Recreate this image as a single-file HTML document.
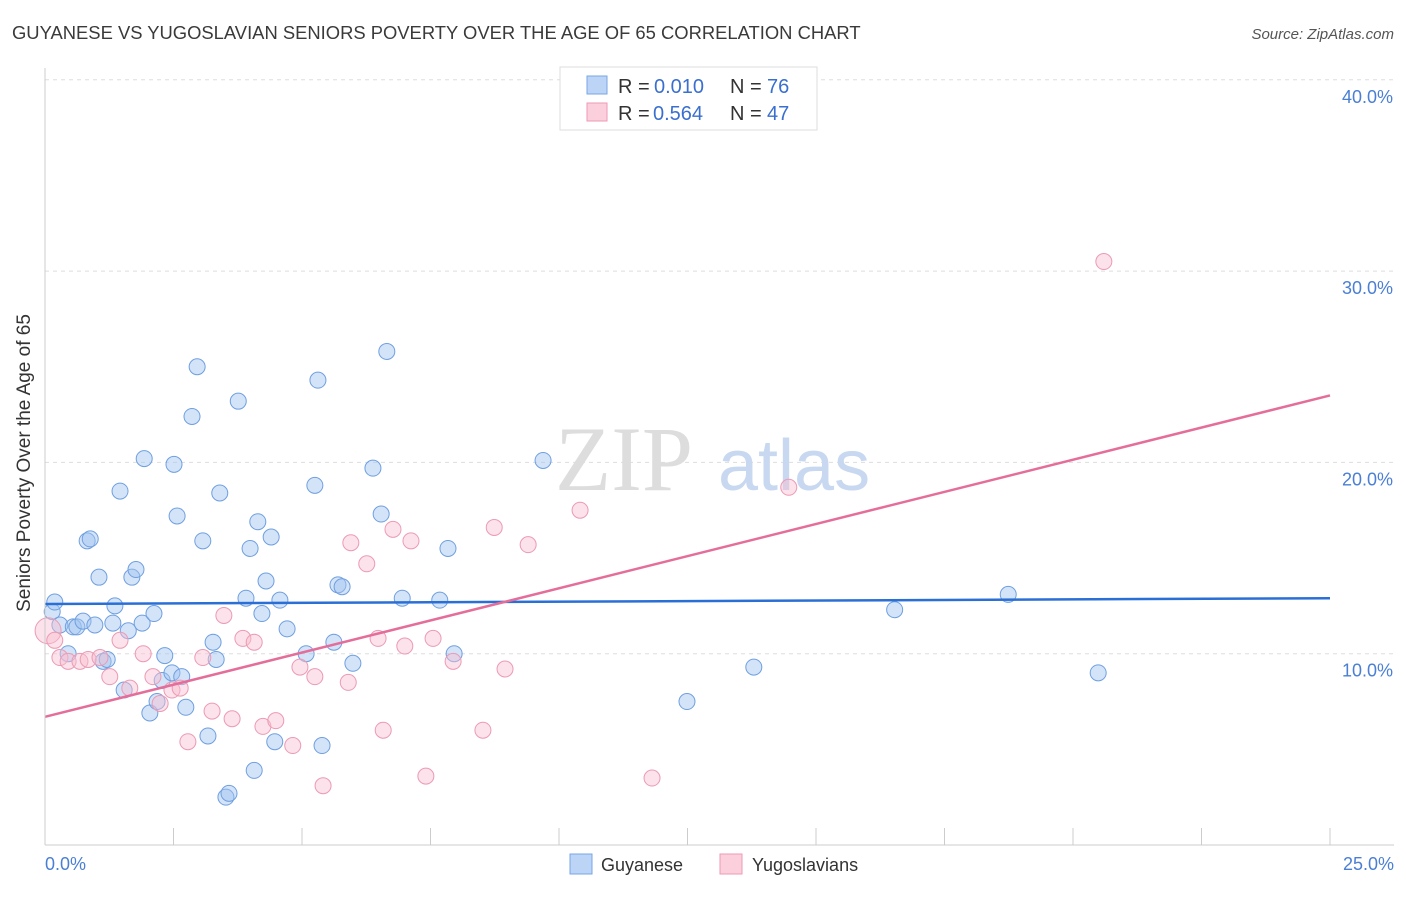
<!DOCTYPE html>
<html><head><meta charset="utf-8"><style>
body{margin:0;background:#fff;font-family:"Liberation Sans",sans-serif;}
</style></head><body>
<svg width="1406" height="892" xmlns="http://www.w3.org/2000/svg">
<text x="12" y="39" font-size="18.4" fill="#3a3a3a">GUYANESE VS YUGOSLAVIAN SENIORS POVERTY OVER THE AGE OF 65 CORRELATION CHART</text>
<text x="1394" y="39" font-size="15" fill="#555" font-style="italic" text-anchor="end">Source: ZipAtlas.com</text>
<g id="grid"></g>
<g>
<text x="555" y="490" font-size="92" fill="#ddd" font-family="Liberation Serif,serif">ZIP</text>
<text x="718" y="490" font-size="72" fill="#c8d8f0">atlas</text></g>
<g id="pts"></g>
<g id="lines"></g>
<line x1="45" y1="68" x2="45" y2="845" stroke="#ccc"/>
<line x1="45" y1="845" x2="1394" y2="845" stroke="#ccc"/>
<text x="22" y="455" font-size="19" fill="#333" transform="rotate(-90 30 455)" text-anchor="middle">Seniors Poverty Over the Age of 65</text>
<text x="45" y="870" font-size="18" fill="#4a7fd4">0.0%</text>
<text x="1394" y="870" font-size="18" fill="#4a7fd4" text-anchor="end">25.0%</text>
<g>
<rect x="560" y="67" width="257" height="63" fill="#fff" stroke="#ddd"/>
<rect x="587" y="76" width="20" height="18" fill="#bcd4f6" stroke="#7aa6e6"/>
<rect x="587" y="103" width="20" height="18" fill="#fbd0dc" stroke="#ee9ab5"/>
<text x="618" y="93" font-size="20" fill="#333">R =</text>
<text x="654" y="93" font-size="20" fill="#3a6fd0">0.010</text>
<text x="730" y="93" font-size="20" fill="#333">N =</text>
<text x="767" y="93" font-size="20" fill="#3a6fd0">76</text>
<text x="618" y="120" font-size="20" fill="#333">R =</text>
<text x="653" y="120" font-size="20" fill="#3a6fd0">0.564</text>
<text x="730" y="120" font-size="20" fill="#333">N =</text>
<text x="767" y="120" font-size="20" fill="#3a6fd0">47</text>
</g>
<g>
<rect x="570" y="854" width="22" height="20" fill="#bcd4f6" stroke="#7aa6e6"/>
<text x="601" y="871" font-size="18" fill="#333">Guyanese</text>
<rect x="720" y="854" width="22" height="20" fill="#fbd0dc" stroke="#ee9ab5"/>
<text x="752" y="871" font-size="18" fill="#333">Yugoslavians</text>
</g>
</svg>
<script>
const yTicks=[10,20,30,40];
const yTickLabels=["10.0%","20.0%","30.0%","40.0%"];
const xTicks=[0,2.5,5,7.5,10,12.5,15,17.5,20,22.5,25];
const guyX=[0.14,0.19,0.29,0.45,0.55,0.62,0.74,0.82,0.88,0.97,1.05,1.13,1.21,1.32,1.36,1.46,1.54,1.62,1.69,1.77,1.89,1.93,2.04,2.12,2.18,2.28,2.33,2.47,2.51,2.57,2.66,2.74,2.86,2.96,3.07,3.17,3.27,3.33,3.40,3.52,3.58,3.76,3.91,3.99,4.07,4.14,4.22,4.30,4.40,4.47,4.57,4.71,5.08,5.25,5.31,5.39,5.62,5.70,5.78,5.99,6.38,6.54,6.65,6.95,7.68,7.84,7.96,9.69,12.49,13.79,16.53,18.74,20.49];
const guyY=[12.2,12.7,11.5,10.0,11.4,11.4,11.7,15.9,16.0,11.5,14.0,9.6,9.7,11.6,12.5,18.5,8.1,11.2,14.0,14.4,11.6,20.2,6.9,12.1,7.5,8.6,9.9,9.0,19.9,17.2,8.8,7.2,22.4,25.0,15.9,5.7,10.6,9.7,18.4,2.5,2.7,23.2,12.9,15.5,3.9,16.9,12.1,13.8,16.1,5.4,12.8,11.3,10.0,18.8,24.3,5.2,10.6,13.6,13.5,9.5,19.7,17.3,25.8,12.9,12.8,15.5,10.0,20.1,7.5,9.3,12.3,13.1,9.0];
const yugX=[0.06,0.19,0.29,0.45,0.68,0.84,1.07,1.26,1.46,1.65,1.91,2.10,2.24,2.47,2.63,2.78,3.07,3.25,3.48,3.64,3.85,4.07,4.24,4.49,4.82,4.96,5.25,5.41,5.90,5.95,6.26,6.48,6.58,6.77,7.00,7.12,7.41,7.55,7.94,8.52,8.74,8.95,9.40,10.41,11.81,14.47,20.60];
const yugY=[11.2,10.7,9.8,9.6,9.6,9.7,9.8,8.8,10.7,8.2,10.0,8.8,7.4,8.1,8.2,5.4,9.8,7.0,12.0,6.6,10.8,10.6,6.2,6.5,5.2,9.3,8.8,3.1,8.5,15.8,14.7,10.8,6.0,16.5,10.4,15.9,3.6,10.8,9.6,6.0,16.6,9.2,15.7,17.5,3.5,18.7,30.5];
const blueFit=[12.6,12.9], pinkFit=[6.7,23.5];
const NS="http://www.w3.org/2000/svg";
const X=v=>45+v*51.4, Y=v=>845-v*19.13;
const grid=document.getElementById('grid'), pts=document.getElementById('pts'), lines=document.getElementById('lines');
function mk(t,a,p){const e=document.createElementNS(NS,t);for(const k in a)e.setAttribute(k,a[k]);p.appendChild(e);return e;}
yTicks.forEach((t,i)=>{
 const l=mk('line',{x1:45,x2:1394,y1:Y(t),y2:Y(t),stroke:'#ddd','stroke-dasharray':'4,4'},grid);
 
 
 const tx=mk('text',{x:1393,y:Y(t)+23,'font-size':18,fill:'#4a7fd4','text-anchor':'end'},grid);
 tx.textContent=yTickLabels[i];
 
 
});
xTicks.forEach(t=>{
 const l=mk('line',{x1:X(t),x2:X(t),y1:828,y2:845,stroke:'#ccc'},grid);
 
 
});
guyX.forEach((x,i)=>{
 const c=mk('circle',{cx:X(x),cy:Y(guyY[i]),r:8,fill:'rgba(160,195,240,0.45)',stroke:'#6f9fe0','stroke-width':1},pts);
 
 
});
yugX.forEach((x,i)=>{
 const c=mk('circle',{cx:X(x),cy:Y(yugY[i]),r:i==0?13:8,fill:'rgba(248,190,208,0.45)',stroke:'#ec9ab4','stroke-width':1},pts);
 
 
});
const b=mk('line',{x1:X(0),x2:X(25),y1:Y(blueFit[0]),y2:Y(blueFit[1]),stroke:'#2a6fd6','stroke-width':2.5},lines);


const p=mk('line',{x1:X(0),x2:X(25),y1:Y(pinkFit[0]),y2:Y(pinkFit[1]),stroke:'#e46d9a','stroke-width':2.5},lines);


</script>
</body></html>
